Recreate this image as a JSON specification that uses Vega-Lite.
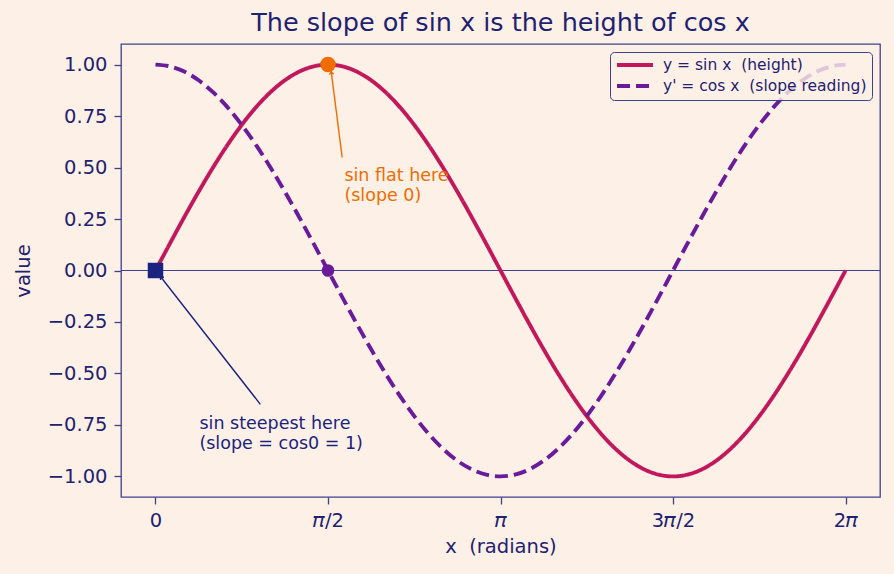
{
  "$schema": "https://vega.github.io/schema/vega-lite/v6.json",
  "autosize": "none",
  "width": 759,
  "height": 453,
  "padding": {"left": 121, "top": 44, "right": 14, "bottom": 77},
  "background": "#fdf1e7",
  "title": {
    "text": "The slope of sin x is the height of cos x",
    "font": "DejaVu Sans",
    "fontSize": 25.5,
    "fontWeight": "normal",
    "color": "#1f2270",
    "anchor": "middle",
    "offset": 8
  },
  "config": {
    "view": {"stroke": "#3f418f", "strokeWidth": 1.3},
    "font": "DejaVu Sans",
    "axis": {
      "domain": false,
      "grid": false,
      "tickColor": "#3f418f",
      "tickSize": 7,
      "tickWidth": 1.3,
      "labelColor": "#1f2270",
      "labelFont": "DejaVu Sans",
      "labelFontSize": 19.5,
      "titleColor": "#1f2270",
      "titleFont": "DejaVu Sans",
      "titleFontSize": 19.5,
      "titleFontWeight": "normal",
      "labelPadding": 7
    }
  },
  "datasets": {
    "curves": [
      {"x": 0, "sin": 0, "cos": 1},
      {"x": 0.1309, "sin": 0.1305, "cos": 0.9914},
      {"x": 0.2618, "sin": 0.2588, "cos": 0.9659},
      {"x": 0.3927, "sin": 0.3827, "cos": 0.9239},
      {"x": 0.5236, "sin": 0.5, "cos": 0.866},
      {"x": 0.6545, "sin": 0.6088, "cos": 0.7934},
      {"x": 0.7854, "sin": 0.7071, "cos": 0.7071},
      {"x": 0.9163, "sin": 0.7934, "cos": 0.6088},
      {"x": 1.0472, "sin": 0.866, "cos": 0.5},
      {"x": 1.1781, "sin": 0.9239, "cos": 0.3827},
      {"x": 1.309, "sin": 0.9659, "cos": 0.2588},
      {"x": 1.4399, "sin": 0.9914, "cos": 0.1305},
      {"x": 1.5708, "sin": 1, "cos": 0},
      {"x": 1.7017, "sin": 0.9914, "cos": -0.1305},
      {"x": 1.8326, "sin": 0.9659, "cos": -0.2588},
      {"x": 1.9635, "sin": 0.9239, "cos": -0.3827},
      {"x": 2.0944, "sin": 0.866, "cos": -0.5},
      {"x": 2.2253, "sin": 0.7934, "cos": -0.6088},
      {"x": 2.3562, "sin": 0.7071, "cos": -0.7071},
      {"x": 2.4871, "sin": 0.6088, "cos": -0.7934},
      {"x": 2.618, "sin": 0.5, "cos": -0.866},
      {"x": 2.7489, "sin": 0.3827, "cos": -0.9239},
      {"x": 2.8798, "sin": 0.2588, "cos": -0.9659},
      {"x": 3.0107, "sin": 0.1305, "cos": -0.9914},
      {"x": 3.1416, "sin": 0, "cos": -1},
      {"x": 3.2725, "sin": -0.1305, "cos": -0.9914},
      {"x": 3.4034, "sin": -0.2588, "cos": -0.9659},
      {"x": 3.5343, "sin": -0.3827, "cos": -0.9239},
      {"x": 3.6652, "sin": -0.5, "cos": -0.866},
      {"x": 3.7961, "sin": -0.6088, "cos": -0.7934},
      {"x": 3.927, "sin": -0.7071, "cos": -0.7071},
      {"x": 4.0579, "sin": -0.7934, "cos": -0.6088},
      {"x": 4.1888, "sin": -0.866, "cos": -0.5},
      {"x": 4.3197, "sin": -0.9239, "cos": -0.3827},
      {"x": 4.4506, "sin": -0.9659, "cos": -0.2588},
      {"x": 4.5815, "sin": -0.9914, "cos": -0.1305},
      {"x": 4.7124, "sin": -1, "cos": 0},
      {"x": 4.8433, "sin": -0.9914, "cos": 0.1305},
      {"x": 4.9742, "sin": -0.9659, "cos": 0.2588},
      {"x": 5.1051, "sin": -0.9239, "cos": 0.3827},
      {"x": 5.236, "sin": -0.866, "cos": 0.5},
      {"x": 5.3669, "sin": -0.7934, "cos": 0.6088},
      {"x": 5.4978, "sin": -0.7071, "cos": 0.7071},
      {"x": 5.6287, "sin": -0.6088, "cos": 0.7934},
      {"x": 5.7596, "sin": -0.5, "cos": 0.866},
      {"x": 5.8905, "sin": -0.3827, "cos": 0.9239},
      {"x": 6.0214, "sin": -0.2588, "cos": 0.9659},
      {"x": 6.1523, "sin": -0.1305, "cos": 0.9914},
      {"x": 6.2832, "sin": 0, "cos": 1}
    ],
    "flatNote": [
      {"x": 1.70, "y": 0.549, "tipX": 1.60, "tipY": 0.966, "angle": -7, "labelX": 1.72, "labelY": 0.505, "label": "sin flat here\n(slope 0)"}
    ],
    "steepNote": [
      {"x": 0.955, "y": -0.650, "tipX": 0.045, "tipY": -0.029, "angle": -38, "labelX": 0.40, "labelY": -0.704, "label": "sin steepest here\n(slope = cos0 = 1)"}
    ]
  },
  "layer": [
    {
      "data": {"values": [{"y": 0}]},
      "mark": {"type": "rule", "color": "#3f418f", "strokeWidth": 1.2},
      "encoding": {"y": {"field": "y", "type": "quantitative"}}
    },
    {
      "data": {"name": "curves"},
      "transform": [{"fold": ["sin", "cos"], "as": ["series", "value"]}],
      "mark": {"type": "line", "strokeWidth": 3.9, "interpolate": "monotone"},
      "encoding": {
        "x": {
          "field": "x",
          "type": "quantitative",
          "scale": {"domain": [-0.314, 6.597], "nice": false, "zero": false},
          "axis": {
            "title": "x\u00a0 (radians)",
            "values": [0, 1.5708, 3.1416, 4.7124, 6.2832],
            "labelExpr": "datum.value < 0.5 ? '0' : datum.value < 2 ? '𝜋/2' : datum.value < 4 ? '𝜋' : datum.value < 5 ? '3𝜋/2' : '2𝜋'",
            "titlePadding": 8
          }
        },
        "y": {
          "field": "value",
          "type": "quantitative",
          "scale": {"domain": [-1.1, 1.1], "nice": false, "zero": false},
          "axis": {
            "title": "value",
            "values": [-1, -0.75, -0.5, -0.25, 0, 0.25, 0.5, 0.75, 1],
            "format": ".2f",
            "titlePadding": 14
          }
        },
        "color": {
          "field": "series",
          "type": "nominal",
          "scale": {"domain": ["sin", "cos"], "range": ["#c2185b", "#6a1b9a"]},
          "legend": {
            "title": null,
            "orient": "top-right",
            "offset": 8,
            "labelExpr": "datum.value == 'sin' ? 'y = sin x\u00a0 (height)' : \"y' = cos x\u00a0 (slope reading)\"",
            "labelFontSize": 15.5,
            "labelLimit": 400,
            "labelColor": "#1f2270",
            "labelFont": "DejaVu Sans",
            "labelOffset": 32,
            "symbolType": "M -1 0 L 5 0",
            "symbolSize": 144,
            "symbolStrokeWidth": 3.9,
            "fillColor": "rgba(253,241,231,0.8)",
            "strokeColor": "#3f418f",
            "cornerRadius": 4,
            "padding": 5,
            "rowPadding": 4
          }
        },
        "strokeDash": {
          "field": "series",
          "type": "nominal",
          "scale": {"domain": ["sin", "cos"], "range": [[1, 0], [13, 6]]},
          "legend": {
            "title": null,
            "orient": "top-right",
            "offset": 8,
            "labelExpr": "datum.value == 'sin' ? 'y = sin x\u00a0 (height)' : \"y' = cos x\u00a0 (slope reading)\"",
            "labelFontSize": 15.5,
            "labelLimit": 400,
            "labelColor": "#1f2270",
            "labelFont": "DejaVu Sans",
            "labelOffset": 32,
            "symbolType": "M -1 0 L 5 0",
            "symbolSize": 144,
            "symbolStrokeWidth": 3.9,
            "fillColor": "rgba(253,241,231,0.8)",
            "strokeColor": "#3f418f",
            "cornerRadius": 4,
            "padding": 5,
            "rowPadding": 4
          }
        }
      }
    },
    {
      "data": {"name": "flatNote"},
      "mark": {"type": "rule", "strokeWidth": 1.4, "color": "#ef6c00"},
      "encoding": {
        "x": {"field": "x", "type": "quantitative"},
        "y": {"field": "y", "type": "quantitative"},
        "x2": {"field": "tipX"},
        "y2": {"field": "tipY"}
      }
    },
    {
      "data": {"name": "steepNote"},
      "mark": {"type": "rule", "strokeWidth": 1.4, "color": "#1a237e"},
      "encoding": {
        "x": {"field": "x", "type": "quantitative"},
        "y": {"field": "y", "type": "quantitative"},
        "x2": {"field": "tipX"},
        "y2": {"field": "tipY"}
      }
    },
    {
      "data": {"values": [{"x": 1.5708, "y": 1}]},
      "mark": {"type": "point", "shape": "circle", "filled": true, "size": 240, "color": "#ef6c00", "opacity": 1},
      "encoding": {"x": {"field": "x", "type": "quantitative"}, "y": {"field": "y", "type": "quantitative"}}
    },
    {
      "data": {"values": [{"x": 1.5708, "y": 0}]},
      "mark": {"type": "point", "shape": "circle", "filled": true, "size": 160, "color": "#6a1b9a", "opacity": 1},
      "encoding": {"x": {"field": "x", "type": "quantitative"}, "y": {"field": "y", "type": "quantitative"}}
    },
    {
      "data": {"values": [{"x": 0, "y": 0}]},
      "mark": {"type": "point", "shape": "square", "filled": true, "size": 240, "color": "#1a237e", "opacity": 1},
      "encoding": {"x": {"field": "x", "type": "quantitative"}, "y": {"field": "y", "type": "quantitative"}}
    },
    {
      "data": {"name": "flatNote"},
      "mark": {"type": "point", "shape": "M -0.5 0.7 L 0 0 L 0.5 0.7", "filled": false, "size": 70, "strokeWidth": 1.4, "color": "#ef6c00", "opacity": 1},
      "encoding": {
        "x": {"field": "tipX", "type": "quantitative"},
        "y": {"field": "tipY", "type": "quantitative"},
        "angle": {"field": "angle", "type": "quantitative", "scale": null}
      }
    },
    {
      "data": {"name": "steepNote"},
      "mark": {"type": "point", "shape": "M -0.5 0.7 L 0 0 L 0.5 0.7", "filled": false, "size": 70, "strokeWidth": 1.4, "color": "#1a237e", "opacity": 1},
      "encoding": {
        "x": {"field": "tipX", "type": "quantitative"},
        "y": {"field": "tipY", "type": "quantitative"},
        "angle": {"field": "angle", "type": "quantitative", "scale": null}
      }
    },
    {
      "data": {"name": "flatNote"},
      "mark": {"type": "text", "align": "left", "baseline": "top", "fontSize": 17.5, "lineHeight": 20, "font": "DejaVu Sans", "lineBreak": "\n", "color": "#ef6c00"},
      "encoding": {
        "x": {"field": "labelX", "type": "quantitative"},
        "y": {"field": "labelY", "type": "quantitative"},
        "text": {"field": "label"}
      }
    },
    {
      "data": {"name": "steepNote"},
      "mark": {"type": "text", "align": "left", "baseline": "top", "fontSize": 17.5, "lineHeight": 20, "font": "DejaVu Sans", "lineBreak": "\n", "color": "#1a237e"},
      "encoding": {
        "x": {"field": "labelX", "type": "quantitative"},
        "y": {"field": "labelY", "type": "quantitative"},
        "text": {"field": "label"}
      }
    }
  ]
}
